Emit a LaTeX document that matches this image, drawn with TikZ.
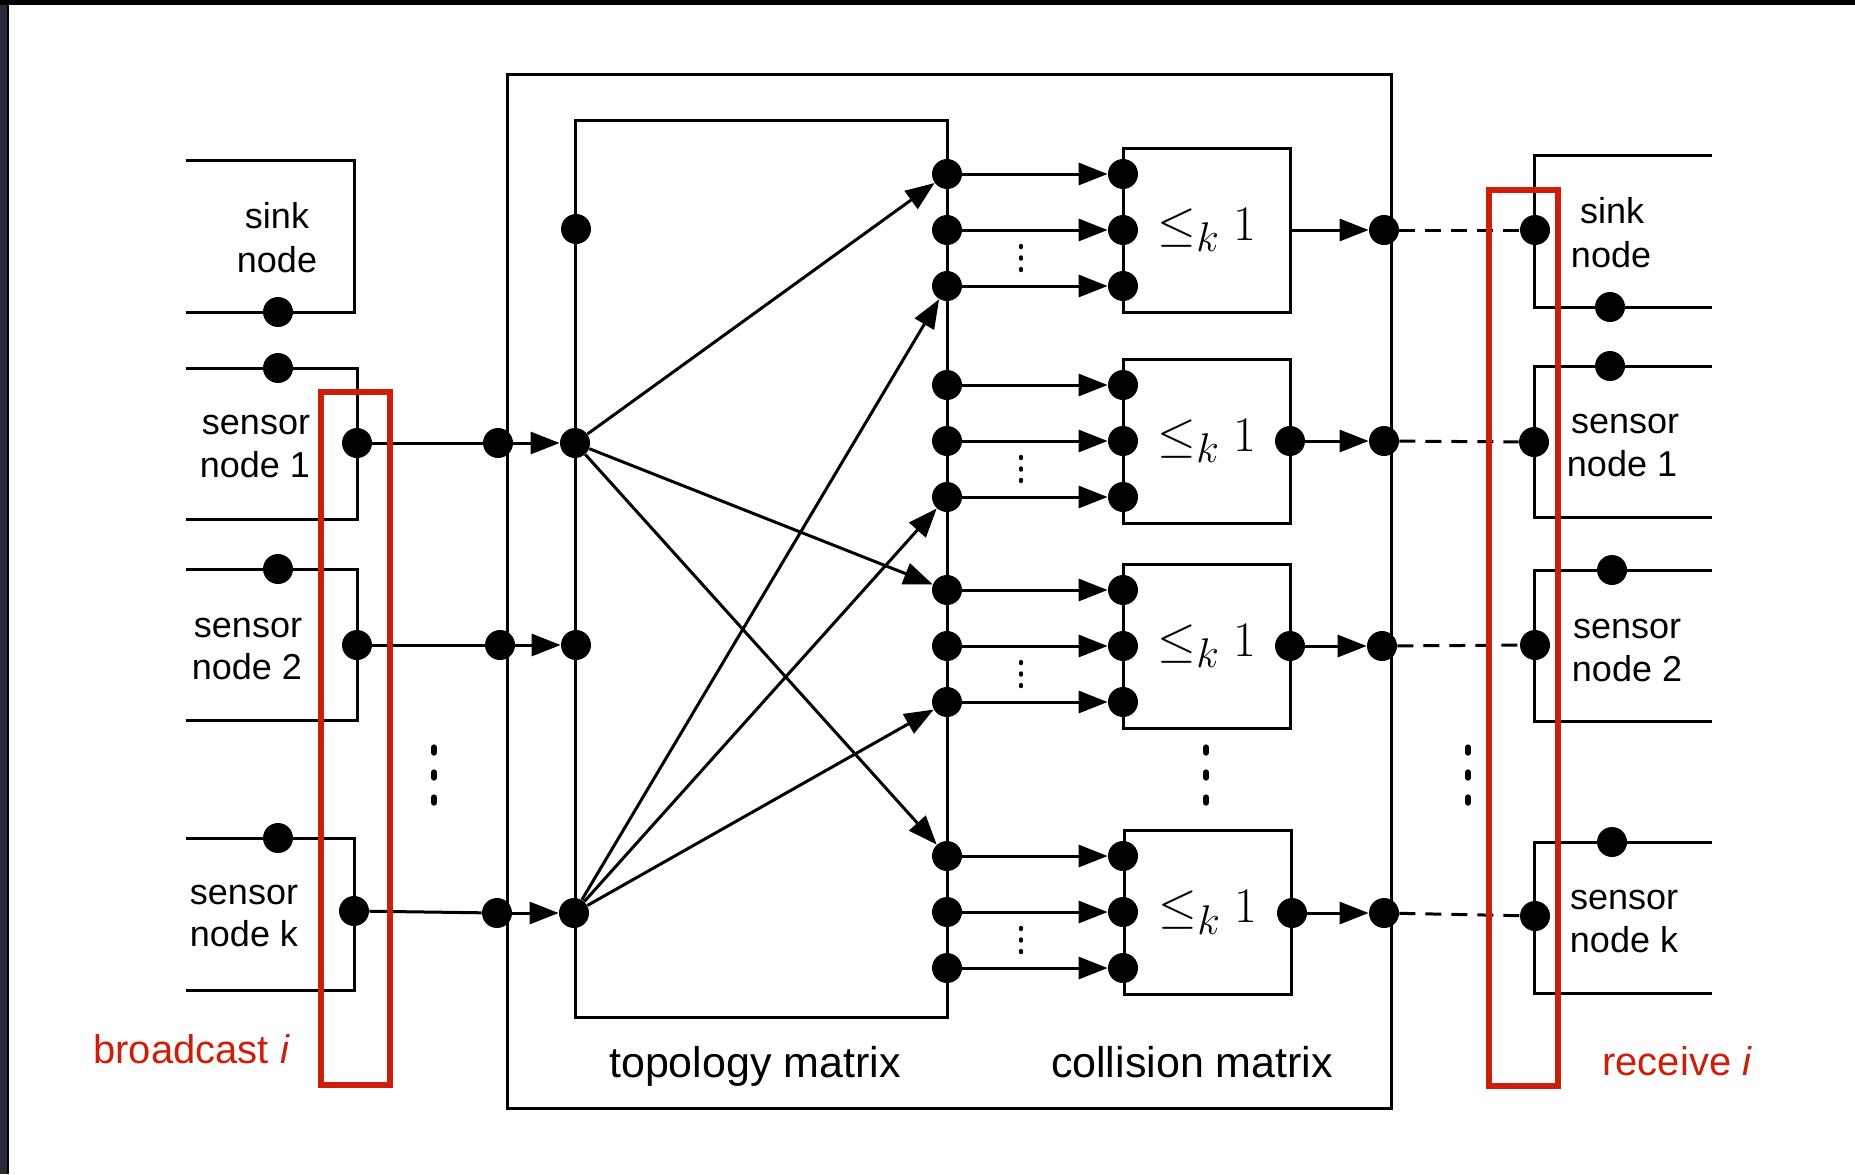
\documentclass[tikz,border=0pt]{standalone}
\usepackage{fontspec}
\setmainfont{Liberation Sans}
\usetikzlibrary{arrows.meta}
\definecolor{markred}{RGB}{204,30,8}
\definecolor{framedark}{RGB}{40,42,60}
\tikzset{
  dot/.style={circle, fill=black, inner sep=0pt, minimum size=15pt},
  wire/.style={line width=1.5pt},
  arr/.style={wire, -{Triangle[length=14.5pt,width=11pt]}},
  link/.style={wire, dash pattern=on 8pt off 5pt},
  hl/.style={draw=markred, line width=2.7pt},
  gate/.style={draw, line width=1.5pt, minimum width=83.5pt, minimum height=82pt,
    inner sep=0pt, font=\fontsize{28.5}{34}\selectfont},
  lbl/.style={font=\fontsize{18}{22}\selectfont, inner sep=0pt, anchor=base},
  big/.style={font=\fontsize{21.5}{26}\selectfont, inner sep=0pt, anchor=base},
  redlbl/.style={text=markred, font=\fontsize{20}{24}\selectfont, inner sep=0pt, anchor=base west},
  bigdots/.style={line width=3.2pt, line cap=round},
  smalldots/.style={line width=1.7pt, line cap=round},
}
\begin{document}
\begin{tikzpicture}[x=0.5pt, y=-0.5pt]
\useasboundingbox (0,0) rectangle (1855,1174);
\fill[white] (0,0) rectangle (1855,1174);
% window edge
\fill[framedark] (0,0) rectangle (8,1174);
\draw[black, line width=1pt] (7.5,0) -- (7.5,1174);
\fill[black] (0,0) rectangle (1855,5);

% ---------- senders (left) ----------
\draw[wire] (186,160) -| (354,312) -- (186,312);
\draw[wire] (186,368) -| (357,519) -- (186,519);
\draw[wire] (186,569) -| (357,720) -- (186,720);
\draw[wire] (186,838) -| (354,990) -- (186,990);

\node[lbl] (lsinkA) at (277,228) {sink};
\node[lbl] (lsinkB) at (277,272) {node};
\node[lbl] (ls1A) at (256,434) {sensor};
\node[lbl] (ls1B) at (255,477) {node 1};
\node[lbl] (ls2A) at (248,637) {sensor};
\node[lbl] (ls2B) at (247,679) {node 2};
\node[lbl] (lskA) at (244,904) {sensor};
\node[lbl] (lskB) at (244,946) {node k};

\node[dot] (lsinkp) at (278,312) {};
\node[dot] (ls1p) at (278,368) {};
\node[dot] (ls2p) at (278,569) {};
\node[dot] (lskp) at (278,838) {};
\node[dot] (ls1o) at (357,443) {};
\node[dot] (ls2o) at (357,645) {};
\node[dot] (lsko) at (354,911) {};

\foreach \y in {750,775,800} \draw[bigdots] (434,\y-2.5) -- (434,\y+2.5);

% ---------- channel: outer frame, topology matrix ----------
\draw[wire] (507,74) rectangle (1391,1108);
\draw[wire] (575,120) rectangle (947,1017);

\node[dot] (in1) at (498,443) {};
\node[dot] (in2) at (500,645) {};
\node[dot] (ink) at (497,913) {};
\node[dot] (t0) at (576,229) {};
\node[dot] (t1) at (575,443) {};
\node[dot] (t2) at (576,645) {};
\node[dot] (tk) at (574,913) {};

\draw[wire] (ls1o) -- (in1);
\draw[wire] (ls2o) -- (in2);
\draw[wire] (lsko) -- (ink);
\draw[arr] (in1) -- (t1);
\draw[arr] (in2) -- (t2);
\draw[arr] (ink) -- (tk);

% ---------- collision matrix ----------
\node[gate] (g1) at (1207,230) {$\leq_k 1$};
\node[gate] (g2) at (1207,441) {$\leq_k 1$};
\node[gate] (g3) at (1207,646) {$\leq_k 1$};
\node[gate] (g4) at (1208,912.5) {$\leq_k 1$};

\foreach \g/\ya/\yb/\yc in {1/174/230/286, 2/385/441/497, 3/590/646/702, 4/856/912/968} {
  \node[dot] (m\g a) at (947,\ya) {};
  \node[dot] (m\g b) at (947,\yb) {};
  \node[dot] (m\g c) at (947,\yc) {};
  \node[dot] (c\g a) at (1123,\ya) {};
  \node[dot] (c\g b) at (1123,\yb) {};
  \node[dot] (c\g c) at (1123,\yc) {};
  \draw[arr] (m\g a) -- (c\g a);
  \draw[arr] (m\g b) -- (c\g b);
  \draw[arr] (m\g c) -- (c\g c);
  \foreach \d in {-11.5,0,11.5}
    \draw[smalldots] (1021,{(\yb+\yc)/2+\d-1}) -- (1021,{(\yb+\yc)/2+\d+1});
}

\foreach \y in {750,775,800} \draw[bigdots] (1206,\y-2.5) -- (1206,\y+2.5);

% topology links
\draw[arr] (t1) -- (m1a);
\draw[arr] (t1) -- (m3a);
\draw[arr] (t1) -- (m4a);
\draw[arr] (tk) -- (m1c);
\draw[arr] (tk) -- (m2c);
\draw[arr] (tk) -- (m3c);

% gate outputs
\coordinate (g1o) at (1290,230);
\node[dot] (g2o) at (1290,441) {};
\node[dot] (g3o) at (1290,646) {};
\node[dot] (g4o) at (1292,913) {};
\node[dot] (o1) at (1384,230) {};
\node[dot] (o2) at (1384,441) {};
\node[dot] (o3) at (1382,646) {};
\node[dot] (o4) at (1384,913) {};
\draw[arr] (g1o) -- (o1);
\draw[arr] (g2o) -- (o2);
\draw[arr] (g3o) -- (o3);
\draw[arr] (g4o) -- (o4);

\node[big] (topo) at (755,1077) {topology matrix};
\node[big] (coll) at (1192,1077) {collision matrix};

% ---------- receivers (right) ----------
\draw[wire] (1712,155) -| (1534,307) -- (1712,307);
\draw[wire] (1712,366) -| (1534,517) -- (1712,517);
\draw[wire] (1712,570) -| (1534,721) -- (1712,721);
\draw[wire] (1712,842) -| (1534,993) -- (1712,993);

\node[lbl] (rsinkA) at (1612,223) {sink};
\node[lbl] (rsinkB) at (1611,267) {node};
\node[lbl] (rs1A) at (1625,433) {sensor};
\node[lbl] (rs1B) at (1622,476) {node 1};
\node[lbl] (rs2A) at (1627,638) {sensor};
\node[lbl] (rs2B) at (1627,681) {node 2};
\node[lbl] (rskA) at (1624,909) {sensor};
\node[lbl] (rskB) at (1624,952) {node k};

\node[dot] (rsinkp) at (1610,307) {};
\node[dot] (rs1p) at (1610,366) {};
\node[dot] (rs2p) at (1612,570) {};
\node[dot] (rskp) at (1612,842) {};
\node[dot] (rsinki) at (1535,230) {};
\node[dot] (rs1i) at (1534,442) {};
\node[dot] (rs2i) at (1535,645) {};
\node[dot] (rski) at (1535,916) {};

\draw[link] (o1) -- (rsinki);
\draw[link] (o2) -- (rs1i);
\draw[link] (o3) -- (rs2i);
\draw[link] (o4) -- (rski);

\foreach \y in {750,775,800} \draw[bigdots] (1468,\y-2.5) -- (1468,\y+2.5);

% ---------- highlighted columns ----------
\draw[hl] (321,392) rectangle (390,1085);
\draw[hl] (1489,190) rectangle (1558,1086);
\node[redlbl] (bcast) at (93,1063) {broadcast \textit{i}};
\node[redlbl] (recv) at (1602,1075) {receive \textit{i}};
\end{tikzpicture}
\end{document}
